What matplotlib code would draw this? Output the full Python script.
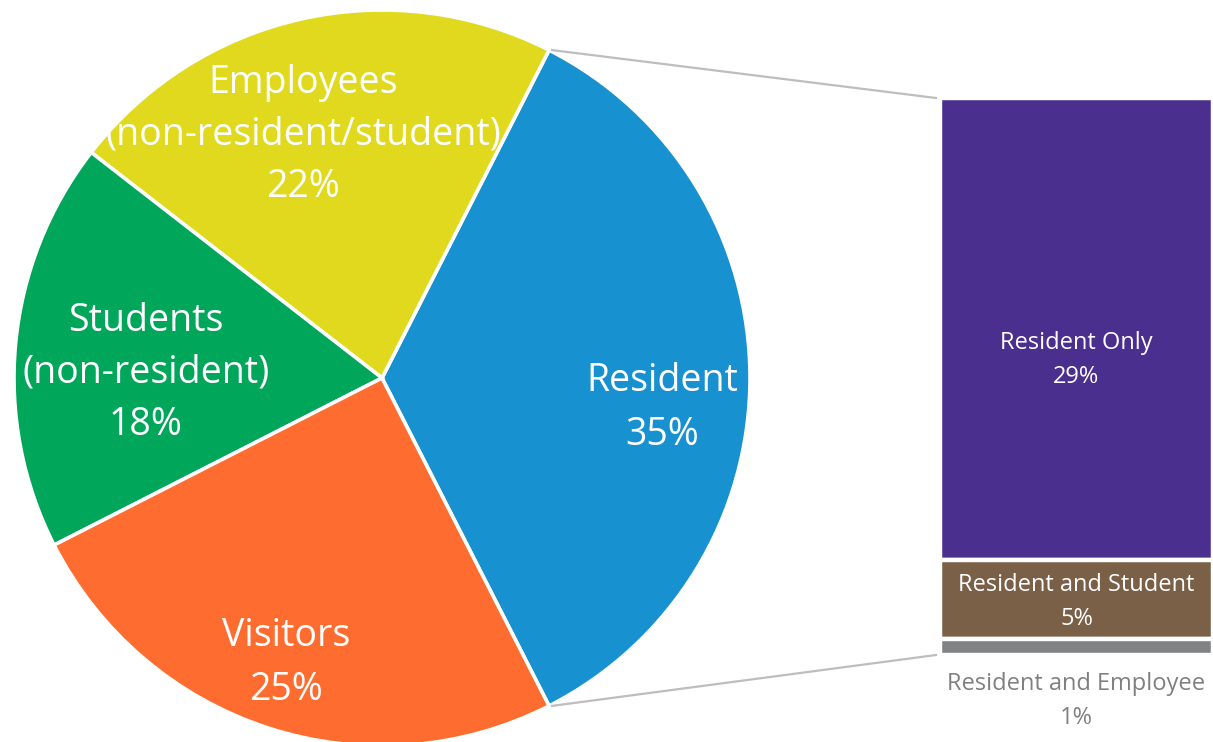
import numpy as np
import matplotlib
matplotlib.use("Agg")
import matplotlib.pyplot as plt

plt.rcParams['font.family'] = ['Open Sans', 'DejaVu Sans']

# pie data
pie_labels = ["Resident", "Employees\n(non-resident/student)", "Students\n(non-resident)", "Visitors"]
pie_values = [35, 22, 18, 25]
pie_colors = ["#1791D0", "#E0D91E", "#00A65A", "#FF6C2F"]

# breakdown of the Resident slice
bar_labels = ["Resident Only", "Resident and Student", "Resident and Employee"]
bar_values = [29, 5, 1]
bar_colors = ["#4A2F8F", "#7B6048", "#808284"]
bar_text_colors = ["white", "white", "#808080"]

W, H = 1213, 742
fig = plt.figure(figsize=(W / 100, H / 100), dpi=100)
ax = fig.add_axes([0, 0, 1, 1])

cx, cy, r = 382, 364, 368
start = -pie_values[0] / sum(pie_values) * 180
wedges, _ = ax.pie(pie_values, colors=pie_colors, startangle=start, counterclock=True,
                   center=(cx, cy), radius=r, frame=True,
                   wedgeprops=dict(edgecolor='white', linewidth=2.6))
ax.set_xlim(0, W)
ax.set_ylim(0, H)
ax.set_aspect('equal')
ax.axis('off')

# pie labels (centres in pixels from the top)
pie_label_pos = [(662, 408), (303, 135), (146, 373), (286, 663)]
pie_spacing = [1.58, 1.47, 1.47, 1.55]
for lab, val, (x, y), ls in zip(pie_labels, pie_values, pie_label_pos, pie_spacing):
    ax.text(x, H - y, f"{lab}\n{val}%", ha='center', va='center', color='white',
            fontsize=27, linespacing=ls)

# stacked bar on the right
bar_left, bar_right = 940, 1213
bar_top, bar_bottom = H - 98, H - 655
scale = (bar_top - bar_bottom) / sum(bar_values)
bx = (bar_left + bar_right) / 2
bw = bar_right - bar_left
bottoms = bar_top - np.cumsum(bar_values) * scale
heights = np.array(bar_values) * scale
ax.bar([bx] * len(bar_values), heights, bottom=bottoms, width=bw,
       color=bar_colors, edgecolor='white', linewidth=3.2)

bar_label_y = [360, 602, 701]
for lab, val, y, c in zip(bar_labels, bar_values, bar_label_y, bar_text_colors):
    ax.text(bx, H - y, f"{lab}\n{val}%", ha='center', va='center',
            color=c, fontsize=17, linespacing=1.52)

# connector lines
theta = np.deg2rad(pie_values[0] / sum(pie_values) * 180)
p_top = (cx + r * np.cos(theta) + 3, cy + r * np.sin(theta))
p_bot = (cx + r * np.cos(theta) + 3, cy - r * np.sin(theta))
ax.plot([p_top[0], bar_left - 4], [p_top[1], bar_top], color='#BDBDBD', lw=1.6)
ax.plot([p_bot[0], bar_left - 4], [p_bot[1], bar_bottom], color='#BDBDBD', lw=1.6)

fig.savefig("out.png", dpi=100)
